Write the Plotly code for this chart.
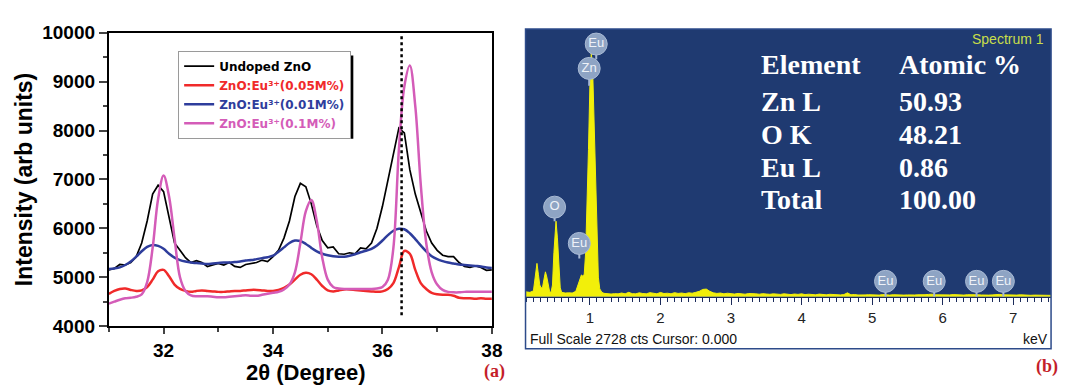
import plotly.graph_objects as go

# ---------------- XRD data (panel a) ----------------
two_theta = [31.0, 31.1, 31.2, 31.3, 31.4, 31.5, 31.6, 31.7, 31.8, 31.9,
             32.0, 32.1, 32.2, 32.3, 32.4, 32.5, 32.6, 32.7, 32.8, 32.9,
             33.0, 33.1, 33.2, 33.3, 33.4, 33.5, 33.6, 33.7, 33.8, 33.9,
             34.0, 34.1, 34.2, 34.3, 34.4, 34.5, 34.6, 34.7, 34.8, 34.9,
             35.0, 35.1, 35.2, 35.3, 35.4, 35.5, 35.6, 35.7, 35.8, 35.9,
             36.0, 36.1, 36.2, 36.3, 36.4, 36.5, 36.6, 36.7, 36.8, 36.9,
             37.0, 37.1, 37.2, 37.3, 37.4, 37.5, 37.6, 37.7, 37.8, 37.9, 38.0]

undoped = [5150, 5180, 5260, 5250, 5300, 5420, 5700, 6150, 6700, 6880,
           6750, 6250, 5700, 5550, 5400, 5300, 5340, 5300, 5220, 5250,
           5280, 5250, 5300, 5220, 5200, 5260, 5280, 5300, 5350, 5320,
           5420, 5550, 5800, 6150, 6650, 6920, 6850, 6500, 6050, 5750,
           5600, 5620, 5480, 5470, 5500, 5480, 5600, 5580, 5700, 6000,
           6450, 7000, 7500, 8050, 7950, 7200, 6700, 6300, 5950, 5700,
           5550, 5450, 5420, 5420, 5300, 5220, 5200, 5230, 5200, 5140, 5150]

eu_005 = [4660, 4720, 4760, 4770, 4740, 4720, 4730, 4800, 4950, 5120,
          5150, 5020, 4850, 4760, 4720, 4700, 4720, 4730, 4720, 4710,
          4700, 4700, 4710, 4720, 4720, 4730, 4740, 4740, 4730, 4720,
          4720, 4740, 4780, 4850, 4950, 5050, 5090, 5060, 4950, 4820,
          4730, 4710, 4730, 4750, 4750, 4740, 4730, 4720, 4710, 4700,
          4710, 4760, 4880, 5200, 5540, 5480, 5150, 4880, 4760, 4680,
          4650, 4640, 4640, 4620, 4580, 4570, 4570, 4560, 4570, 4560, 4560]

eu_001 = [5170, 5180, 5200, 5250, 5320, 5420, 5530, 5620, 5660, 5640,
          5580, 5480, 5400, 5350, 5320, 5300, 5290, 5280, 5270, 5280,
          5290, 5300, 5300, 5310, 5320, 5340, 5350, 5370, 5390, 5410,
          5440, 5520, 5610, 5700, 5750, 5740, 5680, 5600, 5530, 5480,
          5450, 5430, 5420, 5420, 5440, 5470, 5510, 5540, 5580, 5650,
          5750, 5860, 5950, 5990, 5980, 5900, 5780, 5650, 5530, 5430,
          5370, 5330, 5300, 5280, 5260, 5250, 5240, 5230, 5220, 5200, 5190]

eu_01 = [4460, 4500, 4540, 4570, 4580, 4600, 4650, 4900, 5600, 6600,
         7080, 6650, 5800, 5000, 4720, 4630, 4610, 4610, 4610, 4600,
         4590, 4590, 4600, 4610, 4620, 4630, 4620, 4620, 4640, 4660,
         4680, 4700, 4750, 4850, 5100, 5700, 6350, 6580, 6150, 5400,
         4950, 4800, 4770, 4760, 4760, 4760, 4760, 4760, 4760, 4770,
         4800, 4950, 5600, 7600, 8900, 9330, 8500, 6900, 5700, 5100,
         4850, 4740, 4700, 4690, 4690, 4700, 4700, 4700, 4700, 4700, 4700]

marker_line_x = [36.35, 36.35]
marker_line_y = [9930, 4200]

# ---------------- EDS data (panel b) ----------------
kev_peaks = [0.09, 0.15, 0.20, 0.23, 0.25, 0.27, 0.29, 0.31, 0.33, 0.35,
             0.37, 0.39, 0.41, 0.43, 0.45, 0.47, 0.49, 0.51, 0.52, 0.54,
             0.56, 0.58, 0.60, 0.65, 0.70, 0.75, 0.80, 0.83, 0.86, 0.88,
             0.90, 0.92, 0.94, 0.96, 0.98, 1.00, 1.02, 1.04, 1.06, 1.08,
             1.10, 1.12, 1.14, 1.17]
cts_peaks = [50, 45, 60, 250, 340, 230, 120, 90, 100, 180,
             254, 200, 100, 50, 45, 120, 450, 740, 770, 600,
             280, 90, 45, 38, 40, 38, 55, 120, 200, 222,
             210, 230, 450, 900, 1500, 2150, 2490, 2300, 1750, 1050,
             500, 200, 80, 45]

kev_base = [1.20, 1.25, 1.30, 1.35, 1.40, 1.45, 1.50, 1.55, 1.60, 1.65,
            1.70, 1.75, 1.80, 1.85, 1.90, 1.95, 2.00, 2.05, 2.10, 2.15,
            2.20, 2.25, 2.30, 2.35, 2.40, 2.45, 2.50, 2.55, 2.60, 2.65,
            2.70, 2.75, 2.80, 2.85, 2.90, 2.95, 3.00, 3.05, 3.10, 3.15,
            3.20, 3.25, 3.30, 3.35, 3.40, 3.45, 3.50, 3.55, 3.60, 3.65,
            3.70, 3.75, 3.80, 3.85, 3.90, 3.95, 4.00, 4.05, 4.10, 4.15,
            4.20, 4.25, 4.30, 4.35, 4.40, 4.45, 4.50, 4.55, 4.60, 4.65,
            4.70, 4.75, 4.80, 4.85, 4.90, 4.95, 5.00, 5.05, 5.10, 5.15,
            5.20, 5.25, 5.30, 5.35, 5.40, 5.45, 5.50, 5.55, 5.60, 5.65,
            5.70, 5.75, 5.80, 5.85, 5.90, 5.95, 6.00, 6.05, 6.10, 6.15,
            6.20, 6.25, 6.30, 6.35, 6.40, 6.45, 6.50, 6.55, 6.60, 6.65,
            6.70, 6.75, 6.80, 6.85, 6.90, 6.95, 7.00, 7.05, 7.10, 7.15,
            7.20, 7.25, 7.30, 7.35, 7.40, 7.45, 7.50, 7.55]
cts_base = [35, 30, 28, 32, 30, 38, 30, 45, 32, 30,
            40, 33, 30, 42, 35, 30, 44, 33, 36, 30,
            42, 34, 38, 32, 40, 36, 45, 55, 75, 78,
            55, 40, 34, 38, 30, 36, 32, 28, 34, 30,
            26, 33, 28, 30, 26, 32, 28, 25, 30, 27,
            24, 30, 26, 22, 28, 24, 30, 22, 26, 24,
            20, 27, 22, 20, 25, 21, 24, 19, 22, 40,
            20, 23, 18, 22, 19, 21, 18, 20, 17, 22,
            19, 17, 21, 18, 20, 17, 19, 22, 18, 20,
            17, 21, 24, 26, 20, 18, 21, 17, 19, 22,
            18, 20, 17, 21, 23, 25, 20, 18, 21, 17,
            19, 22, 24, 20, 18, 16, 19, 17, 20, 16,
            18, 15, 17, 15, 16, 14, 15, 14]

badge_kev = [1.09, 0.99, 0.50, 0.85, 5.19, 5.88, 6.48, 6.86]
badge_cts = [2574, 2326, 913, 543, 157, 157, 157, 157]
badge_txt = ["Eu", "Zn", "O", "Eu", "Eu", "Eu", "Eu", "Eu"]
stem_bottom = [2420, 2150, 770, 390, 0, 0, 0, 0]

table_elements = ["Element", "Zn L", "O K", "Eu L", "Total"]
table_values = ["Atomic %", "50.93", "48.21", "0.86", "100.00"]

W, H = 1068, 392
def px(x):
    return x / W
def py(y):
    return 1 - y / H

fig = go.Figure()

# ---- panel a traces ----
fig.add_trace(go.Scatter(x=two_theta, y=undoped, mode="lines",
                         line=dict(color="black", width=1.7),
                         name="Undoped ZnO", legendrank=1))
fig.add_trace(go.Scatter(x=two_theta, y=eu_001, mode="lines", line_shape="spline",
                         line=dict(color="#2e3d9c", width=2.5),
                         name='<span style="color:#2e3d9c">ZnO:Eu³⁺(0.01M%)</span>',
                         legendrank=3))
fig.add_trace(go.Scatter(x=two_theta, y=eu_005, mode="lines", line_shape="spline",
                         line=dict(color="#f02a2a", width=2.5),
                         name='<span style="color:#f02a2a">ZnO:Eu³⁺(0.05M%)</span>',
                         legendrank=2))
fig.add_trace(go.Scatter(x=two_theta, y=eu_01, mode="lines", line_shape="spline",
                         line=dict(color="#d45cb8", width=2.5),
                         name='<span style="color:#d45cb8">ZnO:Eu³⁺(0.1M%)</span>',
                         legendrank=4))
fig.add_trace(go.Scatter(x=marker_line_x, y=marker_line_y, mode="lines",
                         line=dict(color="black", width=2.5, dash="dot"),
                         showlegend=False))

# ---- panel b traces ----
fig.add_trace(go.Scatter(x=kev_peaks + kev_base, y=cts_peaks + cts_base,
                         mode="lines", fill="tozeroy", fillcolor="#f2ef0a",
                         line=dict(color="#f2ef0a", width=1),
                         xaxis="x2", yaxis="y2", showlegend=False))
stem_x, stem_y = [], []
for k, c, b in zip(badge_kev, badge_cts, stem_bottom):
    stem_x += [k, k, None]
    stem_y += [c, b, None]
fig.add_trace(go.Scatter(x=stem_x, y=stem_y, mode="lines",
                         line=dict(color="#a7b8d3", width=2),
                         xaxis="x2", yaxis="y2", showlegend=False))
fig.add_trace(go.Scatter(x=badge_kev, y=badge_cts, mode="markers+text",
                         text=badge_txt, textposition="middle center",
                         textfont=dict(family="Arial", size=13, color="#eef2f8"),
                         marker=dict(size=22, color="#8ea4c4",
                                     line=dict(color="#a9bad4", width=1)),
                         xaxis="x2", yaxis="y2", showlegend=False))

axis_font = dict(family="Arial", size=19, color="black", weight="bold")

fig.update_layout(
    width=W, height=H,
    margin=dict(l=0, r=0, t=0, b=0),
    paper_bgcolor="white", plot_bgcolor="white",
    showlegend=True,
    legend=dict(x=px(180), y=py(43), xanchor="left", yanchor="top",
                bgcolor="white", bordercolor="#9a9a9a", borderwidth=1,
                font=dict(family="DejaVu Sans", size=12, color="black", weight="bold"),
                tracegroupgap=0),
    xaxis=dict(domain=[px(110), px(497)], range=[31, 38],
               tick0=32, dtick=2, ticks="outside", ticklen=6, tickwidth=2,
               minor=dict(dtick=1, ticklen=4, tickwidth=2, ticks="outside"),
               showline=True, linewidth=2, linecolor="black", mirror=True,
               showgrid=False, zeroline=False, tickfont=axis_font),
    yaxis=dict(domain=[py(334), py(24)], range=[4000, 10000],
               dtick=1000, ticks="outside", ticklen=8, tickwidth=2, tickformat="d",
               minor=dict(dtick=500, ticklen=4, tickwidth=2, ticks="outside"),
               showline=True, linewidth=2, linecolor="black", mirror=True,
               showgrid=False, zeroline=False, tickfont=axis_font),
    xaxis2=dict(domain=[px(531), px(1062)], range=[0.088, 7.536], anchor="y2",
                tickvals=[1, 2, 3, 4, 5, 6, 7], ticks="outside", ticklen=7,
                tickwidth=1, tickcolor="#1b2b5a",
                minor=dict(dtick=0.1, ticklen=4, tickwidth=1, ticks="outside",
                           tickcolor="#1b2b5a"),
                showline=True, linewidth=1, linecolor="#1b2b5a",
                showgrid=False, zeroline=False,
                tickfont=dict(family="Arial", size=15, color="#222222")),
    yaxis2=dict(domain=[py(303), py(20)], range=[0, 2728], anchor="x2",
                visible=False, showgrid=False, zeroline=False),
    shapes=[
        dict(type="rect", xref="x2 domain", yref="y2 domain", x0=0, x1=1, y0=0, y1=1,
             fillcolor="#1f3a71", line=dict(width=0), layer="below"),
        dict(type="rect", xref="paper", yref="paper", x0=px(531), x1=px(1062),
             y0=py(358), y1=py(20), line=dict(color="#2d4b8a", width=1.5),
             fillcolor="rgba(0,0,0,0)", layer="above"),
        dict(type="rect", xref="paper", yref="paper", x0=px(185), x1=px(357),
             y0=py(136), y1=py(48), fillcolor="black", line=dict(width=0),
             layer="above"),
    ],
)

ann = [
    dict(text="Intensity (arb units)", x=px(25), y=py(179), textangle=-90,
         font=dict(family="Arial", size=23, color="black", weight="bold")),
    dict(text="2θ (Degree)", x=px(309), y=py(383),
         font=dict(family="Arial", size=22, color="black", weight="bold")),
    dict(text="<b>(a)</b>", x=px(500), y=py(382),
         font=dict(family="Liberation Serif", size=18, color="#c41e2a")),
    dict(text="<b>(b)</b>", x=px(1058), y=py(377),
         font=dict(family="Liberation Serif", size=18, color="#c41e2a")),
    dict(text="Spectrum 1", x=px(1057), y=py(31), xanchor="right",
         font=dict(family="Arial", size=14, color="#c8de4a")),
    dict(text="Full Scale 2728 cts Cursor: 0.000", x=px(533), y=py(348), xanchor="left",
         font=dict(family="Arial", size=14, color="#111111")),
    dict(text="keV", x=px(1061), y=py(348), xanchor="right",
         font=dict(family="Arial", size=14, color="#111111")),
]
row_y = [58, 97, 132, 166, 200]
for e, v, ry in zip(table_elements, table_values, row_y):
    ann.append(dict(text="<b>%s</b>" % e, x=px(767), y=py(ry), xanchor="left",
                    font=dict(family="Liberation Serif", size=28, color="white")))
    ann.append(dict(text="<b>%s</b>" % v, x=px(906), y=py(ry), xanchor="left",
                    font=dict(family="Liberation Serif", size=28, color="white")))
for a in ann:
    a.update(xref="paper", yref="paper", showarrow=False,
             xanchor=a.get("xanchor", "center"), yanchor="middle")
fig.update_layout(annotations=ann)

fig.write_html("out.html")
